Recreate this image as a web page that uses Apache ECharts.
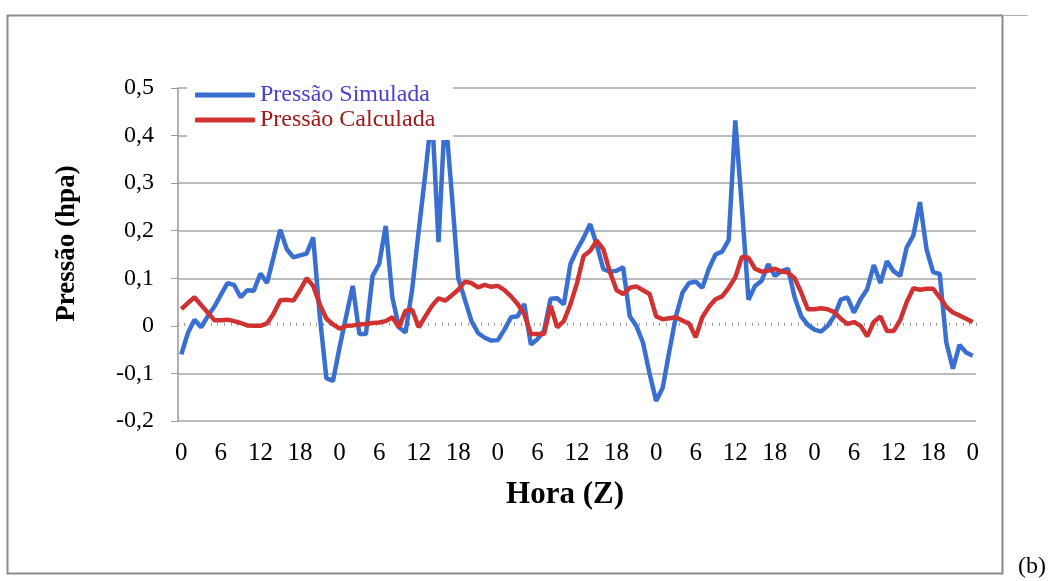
<!DOCTYPE html>
<html>
<head>
<meta charset="utf-8">
<script src="https://cdn.jsdelivr.net/npm/echarts@6/dist/echarts.min.js"></script>
<style>
html, body { margin: 0; padding: 0; background: #fff; }
#grafico { width: 1058px; height: 581px; }
</style>
</head>
<body>
<div id="grafico"></div>
<script>
// horas (Z), 5 dias de dados horarios
var horas = [];
for (var d = 0; d < 5; d++) {
    for (var h = 0; h < 24; h++) horas.push(String(h));
}
horas.push('0');

var yTicks = [-0.2, -0.1, 0, 0.1, 0.2, 0.3, 0.4, 0.5];

var pressaoSimulada = [
    -0.06, -0.015, 0.013, -0.003, 0.02, 0.04, 0.065, 0.09, 0.086, 0.06, 0.075, 0.074, 0.11, 0.09, 0.145, 0.202, 0.161, 0.144, 0.148, 0.152, 0.186, 0.02, -0.11, -0.116,
    -0.045, 0.02, 0.084, -0.017, -0.017, 0.105, 0.13, 0.21, 0.06, -0.003, -0.014, 0.076, 0.2, 0.32, 0.45, 0.176, 0.45, 0.28, 0.1, 0.055, 0.01, -0.015, -0.025, -0.031,
    -0.03, -0.008, 0.018, 0.02, 0.046, -0.039, -0.028, -0.01, 0.057, 0.058, 0.045, 0.13, 0.16, 0.185, 0.214, 0.17, 0.119, 0.114, 0.116, 0.123, 0.02, 0.0, -0.035, -0.1,
    -0.158, -0.13, -0.053, 0.02, 0.07, 0.09, 0.093, 0.08, 0.12, 0.15, 0.156, 0.18, 0.432, 0.25, 0.055, 0.084, 0.095, 0.13, 0.105, 0.115, 0.12, 0.06, 0.02, 0.002,
    -0.008, -0.012, 0.0, 0.02, 0.055, 0.06, 0.028, 0.056, 0.077, 0.128, 0.09, 0.136, 0.115, 0.105, 0.165, 0.19, 0.26, 0.161, 0.113, 0.109, -0.035, -0.09, -0.04, -0.056, -0.063
];

var pressaoCalculada = [
    0.035, 0.048, 0.06, 0.044, 0.028, 0.012, 0.012, 0.013, 0.01, 0.006, 0.001, 0.0, 0.0, 0.005, 0.026, 0.054, 0.055, 0.053, 0.075, 0.1, 0.084, 0.045, 0.015, 0.003,
    -0.006, 0.0, 0.001, 0.003, 0.004, 0.006, 0.007, 0.01, 0.018, -0.003, 0.032, 0.034, -0.003, 0.02, 0.042, 0.058, 0.053, 0.064, 0.076, 0.093, 0.09, 0.081, 0.086, 0.082,
    0.084, 0.075, 0.062, 0.046, 0.025, -0.017, -0.017, -0.017, 0.042, -0.003, 0.01, 0.045, 0.09, 0.147, 0.158, 0.179, 0.161, 0.113, 0.075, 0.067, 0.08, 0.083, 0.075, 0.067,
    0.02, 0.014, 0.016, 0.018, 0.011, 0.005, -0.024, 0.018, 0.04, 0.056, 0.062, 0.08, 0.102, 0.145, 0.143, 0.12, 0.114, 0.116, 0.12, 0.114, 0.112, 0.1, 0.07, 0.035,
    0.035, 0.037, 0.035, 0.029, 0.015, 0.004, 0.008, 0.0, -0.022, 0.008, 0.02, -0.011, -0.011, 0.012, 0.05, 0.079, 0.076, 0.078, 0.078, 0.06, 0.04, 0.028, 0.022, 0.015, 0.008
];

var fonte = 'Liberation Serif, Times New Roman, serif';
var corGrade = '#a6a6a6';

// a linha do zero nao aparece como grade, so os tracinhos do eixo
var coresGrade = [];
for (var i = 0; i < yTicks.length; i++) {
    coresGrade.push(yTicks[i] === 0 ? 'rgba(0,0,0,0)' : corGrade);
}

function fmtY(v) {
    if (Math.abs(v) < 1e-9) return '0';
    return v.toFixed(1).replace('.', ',');
}

var grafico = echarts.init(document.getElementById('grafico'));
var opcao = {
    backgroundColor: '#fff',
    animation: false,
    grid: { left: 178, right: 82, top: 88, bottom: 160, containLabel: false },
    legend: {
        orient: 'vertical',
        left: 187,
        top: 80,
        padding: [3, 18, 8, 8],
        itemGap: 1,
        itemWidth: 60,
        itemHeight: 5,
        icon: 'roundRect',
        backgroundColor: '#fff',
        data: [
            { name: 'Pressão Simulada', textStyle: { color: '#4a3fd0' } },
            { name: 'Pressão Calculada', textStyle: { color: '#a01a1a' } }
        ],
        textStyle: { fontFamily: fonte, fontSize: 24 }
    },
    xAxis: [
        {
            type: 'category',
            data: horas,
            boundaryGap: true,
            position: 'bottom',
            name: 'Hora (Z)',
            nameLocation: 'middle',
            nameGap: 58,
            nameTextStyle: { fontFamily: fonte, fontSize: 31, fontWeight: 'bold', color: '#000', padding: [0, 24, 0, 0] },
            axisLine: { show: false, onZero: false },
            axisTick: { show: false },
            axisLabel: { interval: 5, margin: 20, fontFamily: fonte, fontSize: 25, color: '#000' },
            splitLine: { show: false }
        },
        {
            type: 'category',
            data: horas,
            boundaryGap: true,
            position: 'top',
            axisLine: { show: false, onZero: true },
            axisTick: { show: true, interval: 0, length: 3, lineStyle: { color: '#9a9a9a' } },
            axisLabel: { show: false },
            splitLine: { show: false }
        }
    ],
    yAxis: {
        type: 'value',
        min: -0.2,
        max: 0.5,
        interval: 0.1,
        name: 'Pressão (hpa)',
        nameLocation: 'middle',
        nameGap: 97,
        nameRotate: 90,
        nameTextStyle: { fontFamily: fonte, fontSize: 27, fontWeight: 'bold', color: '#000', padding: [0, 0, 0, 22] },
        axisLine: { show: true, lineStyle: { color: '#999', width: 1.5 } },
        axisTick: { show: true, length: 7, lineStyle: { color: '#999' } },
        axisLabel: { formatter: fmtY, margin: 24, fontFamily: fonte, fontSize: 24, color: '#000' },
        splitLine: { show: true, lineStyle: { color: coresGrade, width: 1.5 } }
    },
    series: [
        {
            name: 'Pressão Simulada',
            type: 'line',
            data: pressaoSimulada,
            showSymbol: false,
            symbol: 'none',
            lineStyle: { color: '#3a6fd2', width: 4.5 },
            itemStyle: { color: '#3a6fd2' }
        },
        {
            name: 'Pressão Calculada',
            type: 'line',
            data: pressaoCalculada,
            showSymbol: false,
            symbol: 'none',
            lineStyle: { color: '#d03232', width: 4.5 },
            itemStyle: { color: '#d03232' }
        }
    ],
    graphic: [
        {
            type: 'rect',
            shape: { x: 7.5, y: 15.5, width: 995, height: 558 },
            style: { fill: null, stroke: '#8c8c8c', lineWidth: 2 },
            silent: true
        },
        {
            type: 'line',
            shape: { x1: 1002, y1: 15.5, x2: 1028, y2: 15.5 },
            style: { stroke: '#b0b0b0', lineWidth: 1 },
            silent: true
        },
        {
            type: 'text',
            left: 1018,
            top: 555,
            style: { text: '(b)', font: '24px ' + fonte, fill: '#000' }
        }
    ]
};
grafico.setOption(opcao);
</script>
</body>
</html>
